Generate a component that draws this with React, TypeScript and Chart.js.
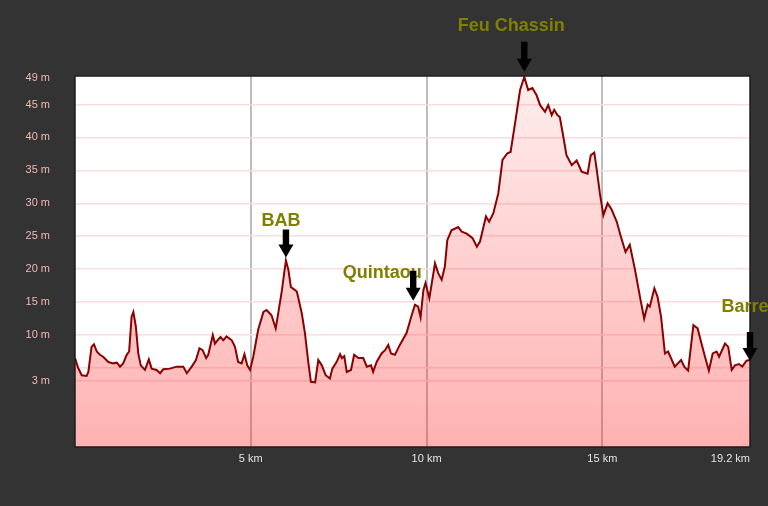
import React, { useEffect, useRef } from "react";
import { Chart, registerables } from "chart.js";

Chart.register(...registerables);

// Elevation profile: distance (km) and elevation (m)
const distKm = [
  0.0, 0.09, 0.19, 0.33, 0.38, 0.47, 0.54, 0.62, 0.71, 0.8, 0.95, 1.09, 1.19, 1.28, 1.37, 1.47, 1.54, 1.61, 1.66, 1.73,
  1.8, 1.87, 1.99, 2.1, 2.18, 2.32, 2.42, 2.51, 2.7, 2.89, 3.08, 3.18, 3.32, 3.44, 3.54, 3.63, 3.73, 3.79, 3.92, 3.98,
  4.05, 4.14, 4.22, 4.31, 4.46, 4.55, 4.64, 4.74, 4.82, 4.9, 4.98, 5.07, 5.21, 5.36, 5.45, 5.59, 5.71, 5.78, 5.88, 5.95,
  6.0, 6.07, 6.14, 6.24, 6.31, 6.45, 6.54, 6.64, 6.71, 6.83, 6.92, 7.02, 7.13, 7.25, 7.32, 7.44, 7.54, 7.59, 7.66, 7.73,
  7.85, 7.94, 8.06, 8.2, 8.3, 8.42, 8.48, 8.58, 8.72, 8.82, 8.91, 8.99, 9.1, 9.24, 9.43, 9.56, 9.67, 9.76, 9.83, 9.91,
  9.97, 10.08, 10.24, 10.33, 10.43, 10.52, 10.59, 10.71, 10.9, 11.0, 11.14, 11.31, 11.43, 11.52, 11.61, 11.69, 11.78,
  11.9, 12.04, 12.16, 12.3, 12.39, 12.51, 12.66, 12.78, 12.89, 13.01, 13.13, 13.23, 13.37, 13.46, 13.56, 13.63, 13.72,
  13.79, 13.89, 13.98, 14.13, 14.27, 14.41, 14.58, 14.67, 14.77, 14.84, 14.93, 15.03, 15.15, 15.26, 15.41, 15.53,
  15.66, 15.78, 15.93, 16.07, 16.19, 16.29, 16.35, 16.48, 16.57, 16.67, 16.78, 16.87, 17.06, 17.24, 17.33, 17.44,
  17.59, 17.71, 17.82, 17.92, 18.03, 18.14, 18.25, 18.32, 18.49, 18.58, 18.68, 18.77, 18.89, 18.98, 19.1, 19.2,
];
const elevM = [
  6.5, 5.0, 3.9, 3.8, 4.4, 8.2, 8.6, 7.5, 7.0, 6.7, 5.9, 5.7, 5.8, 5.2, 5.7, 7.0, 7.5, 12.8, 13.5, 11.3,
  7.2, 5.4, 4.7, 6.3, 4.9, 4.7, 4.2, 4.8, 4.9, 5.2, 5.2, 4.2, 5.2, 6.2, 8.0, 7.7, 6.5, 7.0, 10.0, 8.7,
  9.2, 9.7, 9.2, 9.8, 9.2, 8.2, 5.9, 5.7, 7.1, 5.4, 4.7, 6.7, 10.8, 13.5, 13.8, 13.0, 11.0, 13.3, 16.6, 19.4,
  21.3, 19.9, 17.3, 16.9, 16.6, 13.3, 10.3, 5.7, 2.9, 2.8, 6.2, 5.4, 3.9, 3.4, 4.9, 5.9, 7.1, 6.5, 6.8, 4.4,
  4.7, 7.0, 6.5, 6.5, 5.2, 5.4, 4.4, 5.9, 7.2, 7.7, 8.5, 7.2, 7.0, 8.5, 10.3, 12.7, 14.6, 14.3, 12.7, 16.8,
  17.9, 15.6, 20.9, 19.4, 18.4, 20.4, 24.4, 25.9, 26.4, 25.7, 25.4, 24.7, 23.4, 24.2, 26.2, 28.0, 27.2,
  28.5, 31.5, 36.6, 37.6, 37.8, 41.9, 47.2, 49.2, 47.2, 47.5, 46.4, 44.9, 43.9, 44.9, 43.4, 44.2, 43.4,
  43.1, 40.1, 37.3, 35.8, 36.5, 34.8, 34.5, 37.3, 37.7, 35.1, 31.5, 28.2, 30.0, 29.1, 27.2, 24.9,
  22.6, 23.7, 19.9, 15.8, 12.5, 14.6, 14.3, 17.1, 15.8, 12.8, 7.2, 7.5, 5.2, 6.2, 5.2, 4.6,
  11.5, 11.0, 8.7, 6.7, 4.6, 7.2, 7.5, 6.7, 8.7, 8.2, 4.7, 5.4, 5.6, 5.2, 6.1, 6.2,
];

// Axis ticks
const yTickValues = [3, 5, 10, 15, 20, 25, 30, 35, 40, 45, 49];
const yHiddenLabel = [5];
const yNoGrid = [49];
const xGridValues = [5, 10, 15];
const xLabelValues = [5, 10, 15, 19.2];
const xLabelTexts = ["5 km", "10 km", "15 km", "19.2 km"];

// Annotations (waypoints)
const annoLabels = ["BAB", "Quintaou", "Feu Chassin", "Barre"];
const annoKm = [6.0, 9.62, 12.78, 19.2];
const annoElev = [21.3, 14.6, 49.2, 6.2];

// Annotation drawing style (pixel offsets relative to arrow tip)
const annoStyle = [
  { gap: 3, len: 28, dx: -5, dy: -37 },
  { gap: 4, len: 30, dx: -31, dy: -28 },
  { gap: 5, len: 30, dx: -13, dy: -46 },
  { gap: -1, len: 29, dx: -5, dy: -54 },
];

const FONT = "'Liberation Sans', Arial, sans-serif";

export default function App() {
  const canvasRef = useRef<HTMLCanvasElement | null>(null);

  useEffect(() => {
    document.body.style.margin = "0";
    const canvas = canvasRef.current;
    if (!canvas) return;

    const bgPlugin = {
      id: "bgPlugin",
      beforeDraw(chart: any) {
        const { ctx, chartArea } = chart;
        ctx.save();
        ctx.fillStyle = "#333333";
        ctx.fillRect(0, 0, chart.width, chart.height);
        ctx.fillStyle = "#ffffff";
        ctx.fillRect(chartArea.left, chartArea.top, chartArea.right - chartArea.left, chartArea.bottom - chartArea.top);
        ctx.restore();
      },
      afterDraw(chart: any) {
        const { ctx, chartArea } = chart;
        const xs = chart.scales.x;
        const ys = chart.scales.y;
        ctx.save();
        // border
        ctx.strokeStyle = "#1e1e1e";
        ctx.lineWidth = 1.5;
        ctx.strokeRect(chartArea.left, chartArea.top, chartArea.right - chartArea.left, chartArea.bottom - chartArea.top);
        // x labels
        ctx.font = `11px ${FONT}`;
        ctx.fillStyle = "#e4e4e4";
        ctx.textBaseline = "middle";
        xLabelValues.forEach((v, i) => {
          const px = xs.getPixelForValue(v);
          const isLast = i === xLabelValues.length - 1;
          ctx.textAlign = isLast ? "right" : "center";
          ctx.fillText(xLabelTexts[i], px, chartArea.bottom + 12);
        });
        // annotations
        annoLabels.forEach((lab, i) => {
          const st = annoStyle[i];
          const px = xs.getPixelForValue(annoKm[i]);
          const tipY = ys.getPixelForValue(annoElev[i]) - st.gap;
          ctx.font = `bold 18px ${FONT}`;
          ctx.fillStyle = "#808000";
          ctx.textAlign = "center";
          ctx.textBaseline = "middle";
          ctx.fillText(lab, px + st.dx, tipY + st.dy);
          const headLen = 13;
          const sw = 3.2;
          const hw = 7.5;
          ctx.fillStyle = "#000000";
          ctx.beginPath();
          ctx.moveTo(px - sw, tipY - st.len);
          ctx.lineTo(px + sw, tipY - st.len);
          ctx.lineTo(px + sw, tipY - headLen);
          ctx.lineTo(px + hw, tipY - headLen);
          ctx.lineTo(px, tipY);
          ctx.lineTo(px - hw, tipY - headLen);
          ctx.lineTo(px - sw, tipY - headLen);
          ctx.closePath();
          ctx.fill();
        });
        ctx.restore();
      },
    };

    const data = distKm.map((d, i) => ({ x: d, y: elevM[i] }));

    const chart = new Chart(canvas, {
      type: "line",
      data: {
        datasets: [
          {
            data,
            borderColor: "#8b0000",
            borderWidth: 2,
            pointRadius: 0,
            tension: 0,
            fill: "start",
            backgroundColor: (ctx: any) => {
              const area = ctx.chart.chartArea;
              if (!area) return "rgba(255,60,60,0.25)";
              const g = ctx.chart.ctx.createLinearGradient(0, area.top, 0, area.bottom);
              g.addColorStop(0, "rgba(255,40,40,0.08)");
              g.addColorStop(1, "rgba(255,40,40,0.36)");
              return g;
            },
          },
        ],
      },
      options: {
        animation: false,
        responsive: true,
        maintainAspectRatio: false,
        layout: { padding: { left: 0, top: 76, right: 18, bottom: 0 } },
        plugins: { legend: { display: false }, tooltip: { enabled: false } },
        scales: {
          x: {
            type: "linear",
            min: 0,
            max: 19.2,
            border: { display: false },
            afterBuildTicks: (scale: any) => {
              scale.ticks = xGridValues.map((v) => ({ value: v }));
            },
            afterFit: (scale: any) => {
              scale.height = 59;
            },
            ticks: { display: false },
            grid: { color: "#bdbdbd", lineWidth: 2, drawTicks: false },
          },
          y: {
            type: "linear",
            min: -7,
            max: 49.33,
            border: { display: false },
            afterBuildTicks: (scale: any) => {
              scale.ticks = yTickValues.map((v) => ({ value: v }));
            },
            afterFit: (scale: any) => {
              scale.width = 75;
            },
            ticks: {
              autoSkip: false,
              padding: 25,
              color: "#f2b6b6",
              font: { family: FONT, size: 11 },
              callback: (v: any) => (yHiddenLabel.includes(Number(v)) ? "" : `${v} m`),
            },
            grid: {
              drawTicks: false,
              lineWidth: 1.5,
              color: (ctx: any) => (ctx.tick && yNoGrid.includes(ctx.tick.value) ? "rgba(0,0,0,0)" : "#fcdcdc"),
            },
          },
        },
      },
      plugins: [bgPlugin],
    } as any);

    return () => chart.destroy();
  }, []);

  return (
    <div style={{ position: "fixed", left: 0, top: 0, width: 768, height: 506, background: "#333333" }}>
      <canvas ref={canvasRef} />
    </div>
  );
}
